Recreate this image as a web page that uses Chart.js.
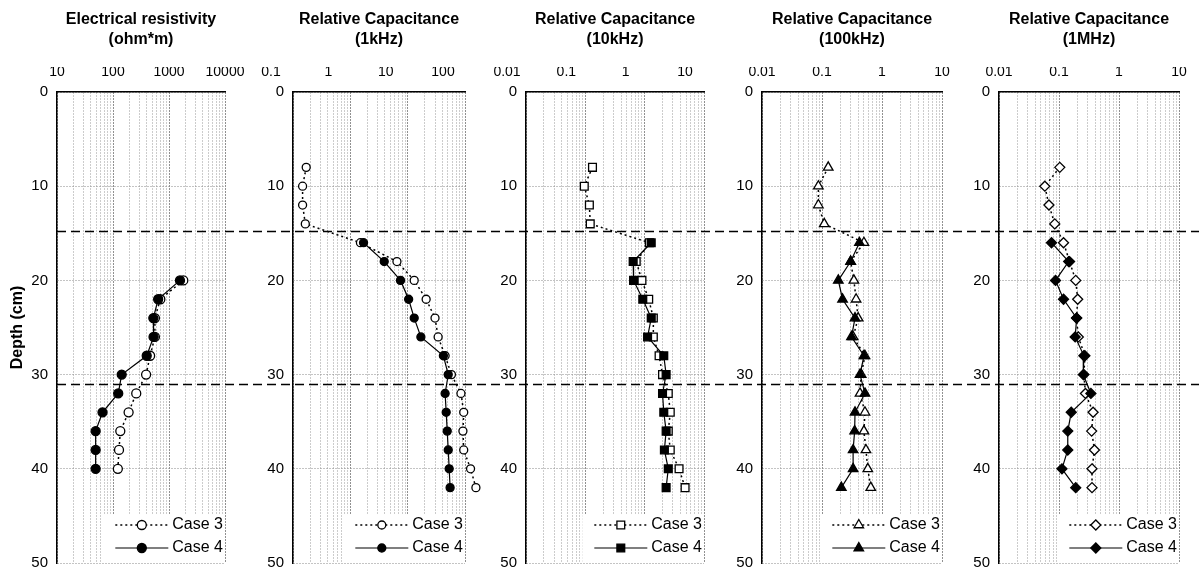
<!DOCTYPE html>
<html>
<head>
<meta charset="utf-8">
<title>Resistivity and relative capacitance profiles</title>
<script src="https://cdn.jsdelivr.net/npm/chart.js@4.4.1/dist/chart.umd.min.js"></script>
<style>
  html, body { margin: 0; padding: 0; background: #fff; }
  #wrap { position: relative; width: 1199px; height: 581px; overflow: hidden; }
  #wrap canvas { position: absolute; top: 0; }
</style>
</head>
<body>
<div id="wrap">
  <canvas id="panel0" width="257" height="581" style="left:0px"></canvas>
  <canvas id="panel1" width="250" height="581" style="left:240px"></canvas>
  <canvas id="panel2" width="250" height="581" style="left:480px"></canvas>
  <canvas id="panel3" width="250" height="581" style="left:720px"></canvas>
  <canvas id="panel4" width="239" height="581" style="left:960px"></canvas>
  <canvas id="boundaries" width="1199" height="581" style="left:0px"></canvas>
</div>
<script>
// --- Data ---
const caseLabels = ['Case 3', 'Case 4'];
const boundaryDepths = [14.8, 31];

const resistivityDepths = [20, 22, 24, 26, 28, 30, 32, 34, 36, 38, 40];
const resistivityCase3 = [1800, 700, 560, 560, 460, 390, 260, 190, 135, 128, 122];
const resistivityCase4 = [1570, 640, 525, 530, 400, 143, 124, 65, 49, 49, 49];

const depthsCase3 = [8, 10, 12, 14, 16, 18, 20, 22, 24, 26, 28, 30, 32, 34, 36, 38, 40, 42];
const depthsCase4 = [16, 18, 20, 22, 24, 26, 28, 30, 32, 34, 36, 38, 40, 42];

const cap1kHzCase3 = [0.17, 0.147, 0.147, 0.164, 1.5, 6.5, 13, 21, 30, 34, 45, 58, 85, 95, 92, 95, 125, 155];
const cap1kHzCase4 = [1.7, 3.9, 7.5, 10.4, 13, 17, 42, 51, 45, 47, 49, 51, 53, 55];
const cap10kHzCase3 = [0.132, 0.096, 0.117, 0.121, 1.2, 0.72, 0.9, 1.17, 1.4, 1.4, 1.75, 2.0, 2.5, 2.7, 2.5, 2.7, 3.8, 4.8];
const cap10kHzCase4 = [1.29, 0.64, 0.65, 0.93, 1.29, 1.12, 2.1, 2.3, 2.0, 2.1, 2.3, 2.15, 2.5, 2.3];
const cap100kHzCase3 = [0.127, 0.087, 0.087, 0.109, 0.5, 0.3, 0.34, 0.37, 0.4, 0.33, 0.52, 0.45, 0.43, 0.52, 0.5, 0.54, 0.58, 0.65];
const cap100kHzCase4 = [0.42, 0.3, 0.187, 0.22, 0.355, 0.31, 0.5, 0.43, 0.52, 0.355, 0.35, 0.33, 0.33, 0.21];
const cap1MHzCase3 = [0.103, 0.058, 0.068, 0.085, 0.119, 0.15, 0.19, 0.205, 0.196, 0.21, 0.27, 0.26, 0.276, 0.37, 0.35, 0.39, 0.355, 0.355];
const cap1MHzCase4 = [0.075, 0.145, 0.0875, 0.119, 0.197, 0.186, 0.26, 0.254, 0.34, 0.16, 0.14, 0.14, 0.112, 0.19];

const depthTicks = [0, 10, 20, 30, 40, 50];
const resistivityTicks = [10, 100, 1000, 10000];
const cap1kHzTicks = [0.1, 1, 10, 100];
const capTicks = [0.01, 0.1, 1, 10];

const panelTitles = [
  ['Electrical resistivity', '(ohm*m)'],
  ['Relative Capacitance', '(1kHz)'],
  ['Relative Capacitance', '(10kHz)'],
  ['Relative Capacitance', '(100kHz)'],
  ['Relative Capacitance', '(1MHz)']
];

// --- Panel layout / styling ---
const tickFont = {family: "'Liberation Sans', Arial, sans-serif", size: 14};
const yTickFont = {family: "'Liberation Sans', Arial, sans-serif", size: 15};
const panels = [
  {id: 'panel0', ticks: resistivityTicks, d3: resistivityDepths, v3: resistivityCase3, d4: resistivityDepths, v4: resistivityCase4,
   marker: 'circle', radius: 4.5, axisWidth: 57, padRight: 32, labelOffset: 0, yTitle: true},
  {id: 'panel1', ticks: cap1kHzTicks, d3: depthsCase3, v3: cap1kHzCase3, d4: depthsCase4, v4: cap1kHzCase4,
   marker: 'circle', radius: 4, axisWidth: 53, padRight: 25, labelOffset: -22},
  {id: 'panel2', ticks: capTicks, d3: depthsCase3, v3: cap10kHzCase3, d4: depthsCase4, v4: cap10kHzCase4,
   marker: 'rect', radius: 5.5, axisWidth: 46, padRight: 26, labelOffset: -19},
  {id: 'panel3', ticks: capTicks, d3: depthsCase3, v3: cap100kHzCase3, d4: depthsCase4, v4: cap100kHzCase4,
   marker: 'triangle', radius: 5.5, axisWidth: 42, padRight: 28, labelOffset: 0},
  {id: 'panel4', ticks: capTicks, d3: depthsCase3, v3: cap1MHzCase3, d4: depthsCase4, v4: cap1MHzCase4,
   marker: 'rectRot', radius: 5, axisWidth: 39, padRight: 20, labelOffset: 0}
];

function isDecade(v) {
  const l = Math.log10(v);
  return Math.abs(l - Math.round(l)) < 1e-6;
}

// 1..9 x 10^n ticks, like the original grid
function logTicks(min, max) {
  const out = [];
  for (let e = Math.round(Math.log10(min)); e < Math.round(Math.log10(max)); e++) {
    for (let s = 1; s < 10; s++) out.push(+(s * Math.pow(10, e)).toPrecision(3));
  }
  out.push(max);
  return out;
}

// legend in the lower right corner + two-line panel title
const panelDecor = {
  id: 'panelDecor',
  afterDatasetsDraw(chart, args, opts) {
    const {ctx, chartArea: area} = chart;
    ctx.save();
    // points that sit just past the plot frame (Chart.js skips them)
    const whole = {left: 0, top: 0, right: chart.width, bottom: chart.height};
    chart.data.datasets.forEach((ds, i) => {
      chart.getDatasetMeta(i).data.forEach(el => {
        if (el.x > area.right + el.options.radius / 2) el.draw(ctx, whole);
      });
    });
    ctx.font = "16px 'Liberation Sans', Arial, sans-serif";
    const textX = area.right - 2 - ctx.measureText(caseLabels[0]).width;
    const lineEnd = textX - 4;
    const lineStart = lineEnd - 53;
    ctx.fillStyle = '#fff';
    ctx.fillRect(lineStart - 12, area.bottom - 49, area.right - lineStart + 11, 48);
    chart.data.datasets.forEach((ds, i) => {
      const y = area.bottom - 38 + 23 * i;
      ctx.strokeStyle = '#000';
      ctx.lineWidth = ds.borderWidth;
      ctx.setLineDash(ds.borderDash);
      ctx.beginPath();
      ctx.moveTo(lineStart, y);
      ctx.lineTo(lineEnd, y);
      ctx.stroke();
      ctx.setLineDash([]);
      ctx.fillStyle = ds.pointBackgroundColor;
      ctx.lineWidth = ds.pointBorderWidth;
      Chart.helpers.drawPoint(ctx, {pointStyle: ds.pointStyle, radius: ds.pointRadius, rotation: 0, borderWidth: ds.pointBorderWidth},
        (lineStart + lineEnd) / 2, y);
      ctx.fillStyle = '#000';
      ctx.textBaseline = 'middle';
      ctx.fillText(ds.label, textX, y);
    });
    ctx.font = "bold 16px 'Liberation Sans', Arial, sans-serif";
    ctx.textAlign = 'center';
    ctx.textBaseline = 'middle';
    ctx.fillStyle = '#000';
    const cx = (area.left + area.right) / 2;
    opts.title.forEach((t, i) => ctx.fillText(t, cx, 20 + 20 * i));
    ctx.restore();
  }
};

function series(label, depths, values, p, filled) {
  return {
    label: label,
    data: depths.map((d, i) => ({x: values[i], y: d})),
    showLine: true,
    clip: false,
    borderColor: '#000',
    borderWidth: filled ? 1.2 : 1.5,
    borderDash: filled ? [] : [2, 3],
    pointStyle: p.marker,
    pointRadius: p.radius,
    pointBorderColor: '#000',
    pointBorderWidth: 1.3,
    pointBackgroundColor: filled ? '#000' : '#fff',
    order: filled ? 0 : 1
  };
}

document.addEventListener('DOMContentLoaded', function() {
  const charts = panels.map((p, idx) => {
    const xMin = p.ticks[0];
    const xMax = p.ticks[p.ticks.length - 1];
    return new Chart(document.getElementById(p.id), {
      type: 'scatter',
      data: {
        datasets: [
          series(caseLabels[0], p.d3, p.v3, p, false),
          series(caseLabels[1], p.d4, p.v4, p, true)
        ]
      },
      options: {
        responsive: false,
        animation: false,
        events: [],
        layout: {padding: {top: 67, right: p.padRight, bottom: 10, left: 0}},
        plugins: {
          legend: {display: false},
          tooltip: {enabled: false},
          panelDecor: {title: panelTitles[idx]}
        },
        scales: {
          x: {
            type: 'logarithmic',
            position: 'top',
            min: xMin,
            max: xMax,
            afterBuildTicks: s => { s.ticks = logTicks(xMin, xMax).map(v => ({value: v})); },
            afterFit: s => { s.height = 25; },
            grid: {
              drawTicks: false,
              lineWidth: 1,
              color: c => (c.tick && isDecade(c.tick.value)) ? '#222' : '#999'
            },
            border: {display: true, color: '#000', width: 1.5, dash: [1, 2]},
            ticks: {
              autoSkip: false,
              maxRotation: 0,
              padding: 11,
              labelOffset: p.labelOffset,
              color: '#000',
              font: tickFont,
              callback: v => p.ticks.some(t => Math.abs(t - v) / t < 1e-6) ? String(v) : ''
            }
          },
          y: {
            type: 'linear',
            reverse: true,
            min: depthTicks[0],
            max: depthTicks[depthTicks.length - 1],
            afterFit: s => { s.width = p.axisWidth; },
            grid: {drawTicks: false, color: '#888', lineWidth: 1},
            border: {display: true, color: '#000', width: 1.5, dash: [1, 2]},
            title: {
              display: !!p.yTitle,
              text: 'Depth (cm)',
              color: '#000',
              font: {family: "'Liberation Sans', Arial, sans-serif", size: 16, weight: 'bold'},
              padding: {top: 8, bottom: 0}
            },
            ticks: {
              stepSize: 10,
              padding: 9,
              color: '#000',
              font: yTickFont,
              callback: v => depthTicks.includes(v) ? String(v) : ''
            }
          }
        }
      },
      plugins: [panelDecor]
    });
  });

  // --- Layer boundaries: dashed lines across all panels ---
  const ref = charts[0];
  const overlay = document.getElementById('boundaries');
  const ctx = overlay.getContext('2d');
  ctx.strokeStyle = '#000';
  ctx.lineWidth = 1.6;
  ctx.setLineDash([9, 5]);
  boundaryDepths.forEach(d => {
    const y = Math.round(ref.scales.y.getPixelForValue(d)) + 0.5;
    ctx.beginPath();
    ctx.moveTo(ref.chartArea.left, y);
    ctx.lineTo(overlay.width, y);
    ctx.stroke();
  });
});
</script>
</body>
</html>
